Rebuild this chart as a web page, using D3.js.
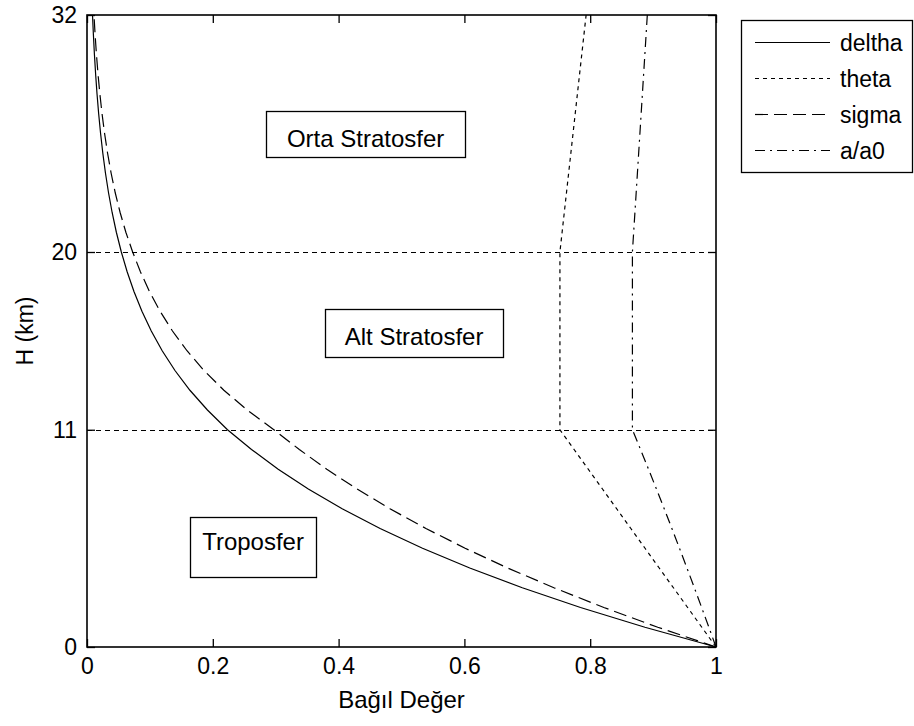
<!DOCTYPE html>
<html>
<head>
<meta charset="utf-8">
<script src="https://cdn.jsdelivr.net/npm/d3@7"></script>
<style>
  html, body { margin: 0; padding: 0; background: #fff; }
  svg { display: block; }
  text { font-family: "Liberation Sans", Arial, sans-serif; fill: #000; }
</style>
</head>
<body>
<svg id="chart" width="914" height="726"></svg>
<script>
// Standard atmosphere ratios against altitude (km)
const altitude = [0,1,2,3,4,5,6,7,8,9,10,11,12,13,14,15,16,17,18,19,20,21,22,23,24,25,26,27,28,29,30,31,32];
const deltha = [1,0.88701,0.78461,0.69204,0.60854,0.53341,0.46600,0.40567,0.35185,0.30397,0.26153,0.22336,
  0.19145,0.16362,0.13985,0.11953,0.10217,0.08734,0.07466,0.06383,0.05457,
  0.04667,0.03995,0.03422,0.02933,0.02516,0.02160,0.01855,0.01595,0.01372,0.01181,0.01018,0.00877];
const theta = [1,0.97744,0.95488,0.93233,0.90977,0.88721,0.86466,0.84210,0.81954,0.79698,0.77443,0.75187,
  0.75187,0.75187,0.75187,0.75187,0.75187,0.75187,0.75187,0.75187,0.75187,
  0.75534,0.75881,0.76228,0.76575,0.76922,0.77269,0.77616,0.77963,0.78310,0.78657,0.79004,0.79351];
const sigma = [1,0.90748,0.82171,0.74225,0.66885,0.60117,0.53887,0.48165,0.42921,0.38128,0.33756,0.29708,
  0.25464,0.21763,0.18601,0.15898,0.13589,0.11616,0.09930,0.08490,0.07258,
  0.06179,0.05266,0.04488,0.03830,0.03272,0.02797,0.02392,0.02047,0.01753,0.01503,0.01289,0.01107];
const aOverA0 = [1,0.98865,0.97718,0.96557,0.95382,0.94192,0.92987,0.91766,0.90529,0.89274,0.88002,0.86711,
  0.86711,0.86711,0.86711,0.86711,0.86711,0.86711,0.86711,0.86711,0.86711,
  0.86911,0.87110,0.87309,0.87507,0.87705,0.87903,0.88100,0.88297,0.88493,0.88689,0.88885,0.89079];

const layerBoundaries = [11, 20];
const xTicks = [0, 0.2, 0.4, 0.6, 0.8, 1];
const yTicks = [0, 11, 20, 32];

const seriesNames = ["deltha", "theta", "sigma", "a/a0"];
const seriesValues = [deltha, theta, sigma, aOverA0];

const regionLabels = ["Orta Stratosfer", "Alt Stratosfer", "Troposfer"];

// ---- layout & style ----
const seriesDash = [null, "4,4", "13,6", "10,5,2,5"];
const regionLayout = [
  { cx: 0.443, cy: 25.99, w: 199, h: 46, textDy: 13 },
  { cx: 0.520, cy: 15.90, w: 178, h: 48, textDy: 12 },
  { cx: 0.264, cy: 5.06,  w: 126, h: 60, textDy: 3 }
];

const svg = d3.select("#chart");
const plot = { left: 87, right: 716, top: 15, bottom: 647 };

const x = d3.scaleLinear().domain([0, 1]).range([plot.left, plot.right]);
const y = d3.scaleLinear().domain([0, 32]).range([plot.bottom, plot.top]);

const fmt = d => String(d);
const tickLen = 8;

// Axes with ticks pointing inward
const ax = svg.append("g").attr("class", "axes");
ax.append("g").attr("transform", `translate(0,${plot.bottom})`)
  .call(d3.axisBottom(x).tickValues(xTicks).tickFormat(fmt).tickSizeInner(-tickLen).tickSizeOuter(0).tickPadding(11));
ax.append("g").attr("transform", `translate(0,${plot.top})`)
  .call(d3.axisTop(x).tickValues(xTicks).tickFormat("").tickSizeInner(-tickLen).tickSizeOuter(0));
ax.append("g").attr("transform", `translate(${plot.left},0)`)
  .call(d3.axisLeft(y).tickValues(yTicks).tickFormat(fmt).tickSizeInner(-tickLen).tickSizeOuter(0).tickPadding(10));
ax.append("g").attr("transform", `translate(${plot.right},0)`)
  .call(d3.axisRight(y).tickValues(yTicks).tickFormat("").tickSizeInner(-tickLen).tickSizeOuter(0));
ax.selectAll(".domain").remove();
ax.selectAll(".tick line").attr("stroke", "#000").attr("stroke-width", 1.3);
ax.selectAll(".tick text").attr("font-size", 23).attr("fill", "#000")
  .attr("font-family", "\"Liberation Sans\", Arial, sans-serif");

// Layer boundary lines
svg.append("g").selectAll("line").data(layerBoundaries).join("line")
  .attr("x1", x(0)).attr("x2", x(1))
  .attr("y1", d => Math.round(y(d)) + 0.5).attr("y2", d => Math.round(y(d)) + 0.5)
  .attr("stroke", "#000").attr("stroke-width", 1.2).attr("stroke-dasharray", "5,4");

// Data curves
const line = d3.line().x(d => x(d[0])).y(d => y(d[1]));
const curves = svg.append("g");
seriesValues.forEach((vals, i) => {
  curves.append("path")
    .datum(vals.map((v, k) => [v, altitude[k]]))
    .attr("d", line)
    .attr("fill", "none").attr("stroke", "#000").attr("stroke-width", 1.2)
    .attr("stroke-dasharray", seriesDash[i]);
});

// Plot frame
svg.append("rect")
  .attr("x", plot.left).attr("y", plot.top)
  .attr("width", plot.right - plot.left).attr("height", plot.bottom - plot.top)
  .attr("fill", "none").attr("stroke", "#000").attr("stroke-width", 1.6);

// Region annotations
const regions = svg.append("g");
regionLabels.forEach((label, i) => {
  const L = regionLayout[i];
  const cx = x(L.cx), cy = y(L.cy);
  regions.append("rect")
    .attr("x", Math.round(cx - L.w / 2) + 0.5).attr("y", Math.round(cy - L.h / 2) + 0.5)
    .attr("width", L.w).attr("height", L.h)
    .attr("fill", "#fff").attr("stroke", "#000").attr("stroke-width", 1.3);
  regions.append("text")
    .attr("x", cx).attr("y", cy + L.textDy)
    .attr("text-anchor", "middle").attr("font-size", 24).text(label);
});

// Axis titles
svg.append("text").attr("x", x(0.5)).attr("y", 708)
  .attr("text-anchor", "middle").attr("font-size", 24).text("Bağıl Değer");
svg.append("text")
  .attr("transform", `translate(33,${y(16)}) rotate(-90)`)
  .attr("text-anchor", "middle").attr("font-size", 23).text("H (km)");

// Legend
const legend = svg.append("g");
const legendTop = 20, rowH = 36, firstRow = 42;
legend.append("rect")
  .attr("x", 741.5).attr("y", legendTop + 0.5).attr("width", 171).attr("height", (firstRow - legendTop) * 2 + 3 * rowH)
  .attr("fill", "#fff").attr("stroke", "#000").attr("stroke-width", 1.3);
seriesNames.forEach((name, i) => {
  const cy = firstRow + i * rowH + 0.5;
  legend.append("line")
    .attr("x1", 755).attr("x2", 830).attr("y1", cy).attr("y2", cy)
    .attr("stroke", "#000").attr("stroke-width", 1.2)
    .attr("stroke-dasharray", seriesDash[i]);
  legend.append("text").attr("x", 840).attr("y", cy + 8)
    .attr("font-size", 23).text(name);
});
</script>
</body>
</html>
